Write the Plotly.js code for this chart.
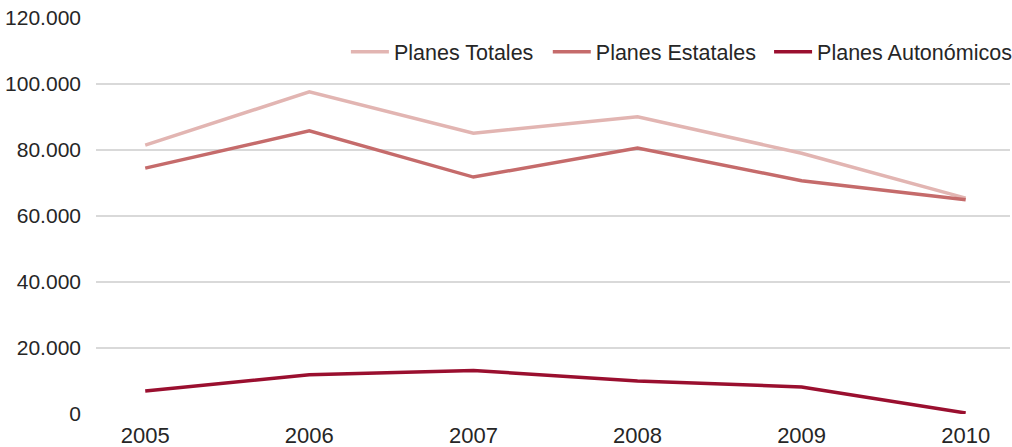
<!DOCTYPE html>
<html><head><meta charset="utf-8">
<script src="https://cdn.plot.ly/plotly-3.0.1.min.js"></script>
<style>html,body{margin:0;padding:0;background:#fff}#chart{width:1012px;height:447px}</style>
</head><body><div id="chart"></div>
<script>
const years = ['2005','2006','2007','2008','2009','2010'];
const planesTotales = [81500, 97600, 85100, 90100, 79000, 65400];
const planesEstatales = [74500, 85800, 71800, 80600, 70700, 64900];
const planesAutonomicos = [7000, 11900, 13200, 10000, 8200, 300];
const yTicks = [0, 20000, 40000, 60000, 80000, 100000, 120000];
const yTickText = ['0', '20.000', '40.000', '60.000', '80.000', '100.000', '120.000'];

const mk = (name, y, color, lg) => ({
  type: 'scatter', mode: 'lines', name: name, x: years, y: y, legend: lg,
  line: {color: color, width: 3.5}, hoverinfo: 'x+y'
});
const data = [
  mk('Planes Totales', planesTotales, '#e2b5b2', 'legend'),
  mk('Planes Estatales', planesEstatales, '#c56b6b', 'legend2'),
  mk('Planes Autonómicos', planesAutonomicos, '#9a0f2f', 'legend3')
];
const lg = (x) => ({orientation: 'h', x: x, xanchor: 'left', y: 0.915, yanchor: 'middle',
  font: {size: 21.5}, bgcolor: 'rgba(0,0,0,0)', itemwidth: 38, borderwidth: 0});
const layout = {
  width: 1012, height: 447,
  margin: {l: 96, r: 2, t: 18, b: 33, autoexpand: false},
  paper_bgcolor: '#fff', plot_bgcolor: '#fff',
  font: {family: 'Liberation Sans, Arial, sans-serif', size: 21, color: '#262626'},
  xaxis: {type: 'category', range: [-0.3, 5.27], showgrid: false, zeroline: false,
          showline: false, ticks: '', tickfont: {size: 22}, ticklabelstandoff: 6},
  yaxis: {range: [0, 120000], tickvals: yTicks, ticktext: yTickText,
          showgrid: true, gridcolor: '#d9d9d9', gridwidth: 1.3, zeroline: false,
          showline: false, ticks: '', ticklabelstandoff: 14, tickfont: {size: 21}},
  showlegend: true,
  legend: lg(0.2734),
  legend2: lg(0.4943),
  legend3: lg(0.7364)
};
Plotly.newPlot('chart', data, layout, {displayModeBar: false, staticPlot: true});
</script></body></html>
